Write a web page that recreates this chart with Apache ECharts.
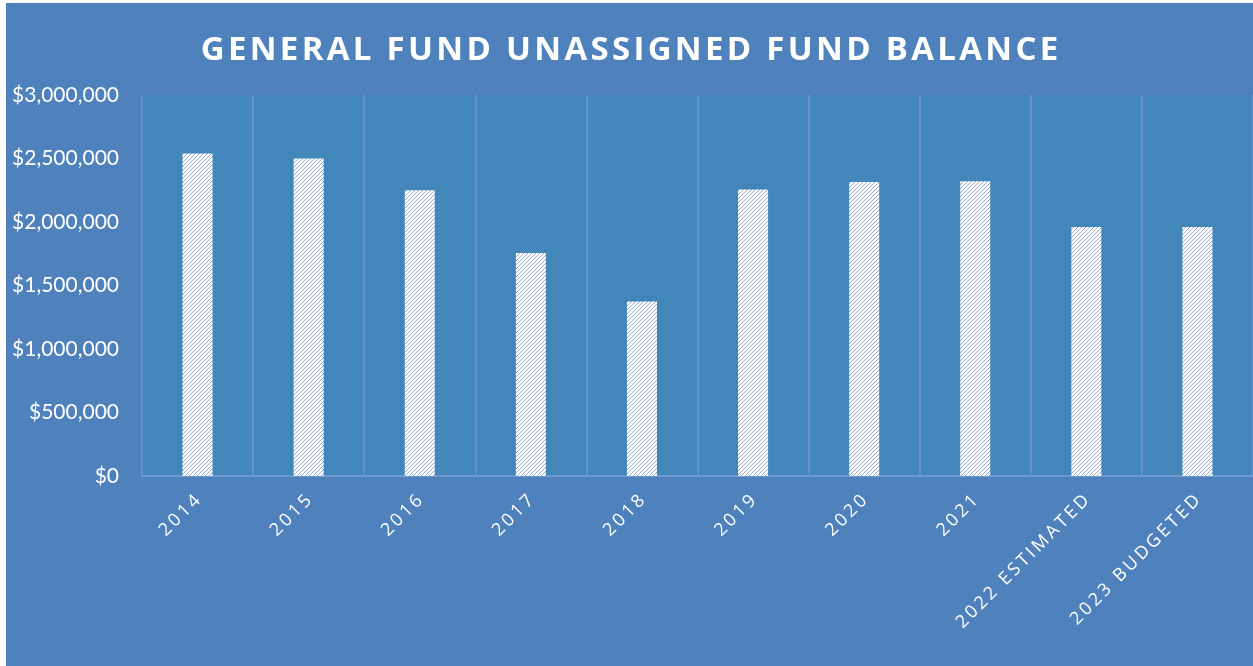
<!DOCTYPE html>
<html>
<head>
<meta charset="utf-8">
<title>General Fund Unassigned Fund Balance</title>
<script src="https://cdn.jsdelivr.net/npm/echarts@6/dist/echarts.min.js"></script>
<style>
  html, body { margin: 0; padding: 0; background: #ffffff; }
  #chart { position: absolute; left: 6px; top: 3px; width: 1247px; height: 663px; }
</style>
</head>
<body>
<div id="chart"></div>
<script>
const years = ['2014', '2015', '2016', '2017', '2018', '2019', '2020', '2021', '2022 ESTIMATED', '2023 BUDGETED']
const balances = [2540000, 2500000, 2250000, 1755000, 1375000, 2255000, 2315000, 2320000, 1960000, 1960000]
const yTicks = { min: 0, max: 3000000, interval: 500000 }

// hatch pattern for the bars (white with thin diagonal stripes)
function makeHatch() {
  const c = document.createElement('canvas')
  c.width = 4
  c.height = 4
  const ctx = c.getContext('2d')
  ctx.fillStyle = '#ffffff'
  ctx.fillRect(0, 0, 4, 4)
  ctx.fillStyle = '#94a9d2'
  for (let i = 0; i < 4; i++) ctx.fillRect(i, 3 - i, 1, 1)
  return c
}

// no letterSpacing in canvas text, so pad with thin spaces
function spaced(s, sp) {
  return s.split('').join(sp || '\u2009')
}

const chart = echarts.init(document.getElementById('chart'))
chart.setOption({
  backgroundColor: '#4f81bd',
  animation: false,
  title: {
    text: spaced('GENERAL FUND UNASSIGNED FUND BALANCE', '\u200A'),
    left: 'center',
    top: 26,
    textStyle: { color: '#ffffff', fontSize: 33, fontWeight: 'bold', fontFamily: 'Open Sans' }
  },
  grid: {
    left: 136, right: 0, top: 92, bottom: 190,
    show: true, backgroundColor: '#4386b9', borderWidth: 0
  },
  xAxis: {
    type: 'category',
    data: years,
    axisLine: { lineStyle: { color: '#6e9ad0', width: 2 } },
    axisTick: { show: false },
    splitLine: { show: true, lineStyle: { color: '#6690cb', width: 2 } },
    axisLabel: {
      rotate: 45,
      margin: 22,
      color: '#ffffff',
      fontSize: 18,
      fontFamily: 'Open Sans',
      interval: 0,
      formatter: v => spaced(v)
    }
  },
  yAxis: {
    type: 'value',
    min: yTicks.min,
    max: yTicks.max,
    interval: yTicks.interval,
    axisLine: { show: false },
    axisTick: { show: false },
    splitLine: { show: false },
    axisLabel: {
      margin: 23,
      color: '#ffffff',
      fontSize: 21,
      fontFamily: 'Lato',
      formatter: v => '$' + v.toLocaleString('en-US')
    }
  },
  series: [
    {
      type: 'bar',
      data: balances,
      barWidth: 30,
      itemStyle: { color: { image: makeHatch(), repeat: 'repeat' } }
    }
  ]
})
</script>
</body>
</html>
